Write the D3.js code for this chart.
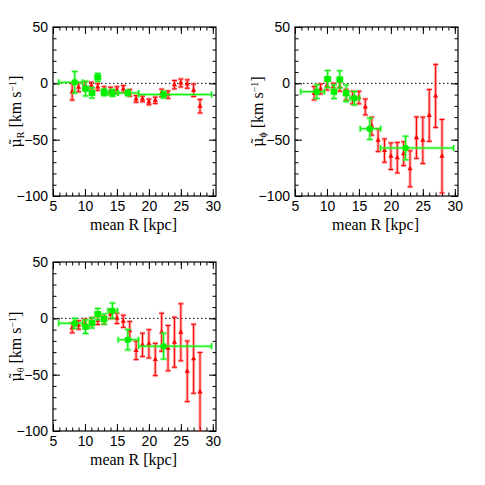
<!doctype html>
<html>
	<head>
		<meta charset="UTF-8" />
		<script src="https://d3js.org/d3.v7.min.js"></script>
		<style>
			body { margin: 0; background: #fff; }
			svg { display: block; }
			.tick text { font-family: "Liberation Sans", Arial, sans-serif; font-size: 14px; fill: #000; }
			.title { font-family: "Liberation Serif", "DejaVu Serif", serif; font-size: 16px; fill: #000; }
			.mu { font-family: "DejaVu Serif", serif; font-size: 14px; }
		</style>
	</head>
	<body>
		<svg id="chart" width="485" height="485"></svg>
		<script>
			// single-star bins (red), 1 kpc steps
			const starR = [8, 9, 10, 11, 12, 13, 14, 15, 16, 17, 18, 19, 20, 21, 22, 23, 24, 25, 26, 27, 28];
			const starMuR = [-7.6, -3.5, -1.5, -2, -3.2, -6, -6.5, -6, -5, -8.5, -13.8, -13.8, -16.5, -15, -8.5, -10, -1.2, 0.3, -0.6, -6.2, -20.3];
			const starMuRErr = [7.3, 4, 3, 3, 3, 3, 3, 3, 3, 3, 3, 2.5, 2.5, 2.8, 3.3, 3.3, 3.7, 3.5, 3.7, 5.5, 6];
			const starMuPhi = [-8.8, -5, -2, -3, -3, -10, -12.6, -12.6, -21, -38, -50.6, -59.7, -64.7, -66, -62.4, -75.9, -48.2, -50.6, -28.5, -11.2, -64.7];
			const starMuPhiErr = [5.9, 4.4, 4, 3, 4, 4.7, 5.6, 5.6, 7, 8, 10, 10.3, 11.8, 13.5, 10.6, 16, 18.4, 20.6, 23, 28, 32.6];
			const starMuTheta = [-8.5, -5.9, -3.5, -3, -2, -1.5, 3.8, 0, -2.6, -11, -28.5, -23.5, -22.6, -36.5, -12.4, -26.5, -21.2, -12.4, -47, -35.9, -65.3];
			const starMuThetaErr = [4.3, 3.7, 3, 3.5, 3.5, 3.5, 4.1, 4.6, 5.4, 8.1, 8.1, 10.3, 12.5, 14.3, 16.9, 20.1, 22.2, 25.3, 26.9, 30.6, 35];

			// wide bins (green)
			const binR = [8.4, 10.1, 11.1, 12.0, 13.0, 14.3, 16.7, 22.3];
			const binLo = [5.9, 9.7, 10.7, 11.6, 12.6, 13.6, 15.2, 18.4];
			const binHi = [9.6, 10.5, 11.5, 12.4, 13.4, 15.1, 18.4, 29.8];
			const binMuR = [0.9, -4.7, -8.5, 5.3, -8, -8.5, -8.5, -10];
			const binMuRErr = [9.5, 6.5, 4.5, 3.5, 3, 3, 2.5, 3];
			const binMuPhi = [-7.4, 3.8, -7.4, 3.5, -8.8, -13.2, -40.3, -57.4];
			const binMuPhiErr = [6, 7.6, 6, 7.6, 7.4, 6, 9.5, 10.5];
			const binMuTheta = [-4.4, -7.4, -4.1, 3.8, -0.6, 6.8, -19, -24.7];
			const binMuThetaErr = [4.4, 6, 4.5, 5, 4.5, 6.7, 9, 11.5];

			const xTicks = [5, 10, 15, 20, 25, 30];
			const yTicks = [-100, -50, 0, 50];
			const subs = ["R", "\u03d5", "\u03b8"];

			(function(){
				"use strict"

				const svg = d3.select("#chart");
				const w = 163, h = 169;
				const panels = [
					{ left: 53, top: 27, sub: subs[0], mu: starMuR, err: starMuRErr, bmu: binMuR, berr: binMuRErr },
					{ left: 295, top: 27, sub: subs[1], mu: starMuPhi, err: starMuPhiErr, bmu: binMuPhi, berr: binMuPhiErr },
					{ left: 53, top: 262, sub: subs[2], mu: starMuTheta, err: starMuThetaErr, bmu: binMuTheta, berr: binMuThetaErr }
				];

				const x = d3.scaleLinear().domain([5, 30.5]).range([0, w]);
				const y = d3.scaleLinear().domain([-100, 50]).range([h, 0]);
				const xMinor = d3.range(5, 31, 1);
				const yMinor = d3.range(-100, 51, 10);

				panels.forEach(function(p, i){
					let g = svg.append("g").attr("transform", "translate(" + p.left + "," + p.top + ")");

					g.append("clipPath").attr("id", "clip" + i)
						.append("rect").attr("width", w).attr("height", h);

					// axes, ticks inward on all sides
					let addAxis = function(axis, tr, values, size, labels){
						let a = g.append("g").attr("transform", tr)
							.call(axis(values === xTicks || values === xMinor ? x : y)
								.tickValues(values).tickSize(-size).tickPadding(5)
								.tickFormat(labels ? d3.format("d") : ""));
						a.select(".domain").remove();
						a.selectAll("line").attr("stroke", "#000");
						return a;
					};
					addAxis(d3.axisBottom, "translate(0," + h + ")", xMinor, 3.5, false);
					addAxis(d3.axisBottom, "translate(0," + h + ")", xTicks, 7, true);
					addAxis(d3.axisTop, "translate(0,0)", xMinor, 3.5, false);
					addAxis(d3.axisTop, "translate(0,0)", xTicks, 7, false);
					addAxis(d3.axisLeft, "translate(0,0)", yMinor, 3.5, false);
					addAxis(d3.axisLeft, "translate(0,0)", yTicks, 7, true);
					addAxis(d3.axisRight, "translate(" + w + ",0)", yMinor, 3.5, false);
					addAxis(d3.axisRight, "translate(" + w + ",0)", yTicks, 7, false);
					g.selectAll(".tick text").text(function(){ return this.textContent.replace("-", "\u2212"); });

					g.append("rect").attr("width", w).attr("height", h)
						.attr("fill", "none").attr("stroke", "#000").attr("stroke-width", 1.2);

					g.append("line")
						.attr("x1", 0).attr("x2", w)
						.attr("y1", y(0)).attr("y2", y(0))
						.attr("stroke", "#000").attr("stroke-dasharray", "1.5,2.5");

					let data = g.append("g").attr("clip-path", "url(#clip" + i + ")");

					// red: per-kpc points
					let red = data.selectAll(".red").data(starR).enter().append("g");
					[["rgba(255,60,60,0.45)", 3], ["#ff0000", 1]].forEach(function(s){
						red.append("path")
							.attr("d", function(d, j){
								let cx = x(d), y1 = y(p.mu[j] + p.err[j]), y2 = y(p.mu[j] - p.err[j]);
								return "M" + cx + "," + y1 + "V" + y2 +
									"M" + (cx - 2.5) + "," + y1 + "H" + (cx + 2.5) +
									"M" + (cx - 2.5) + "," + y2 + "H" + (cx + 2.5);
							})
							.attr("fill", "none").attr("stroke", s[0]).attr("stroke-width", s[1]);
					});
					red.append("path")
						.attr("d", d3.symbol().type(d3.symbolTriangle).size(12))
						.attr("transform", function(d, j){ return "translate(" + x(d) + "," + y(p.mu[j]) + ")"; })
						.attr("fill", "#ff0000");

					// green: wide bins
					let green = data.selectAll(".green").data(binR).enter().append("g");
					[["rgba(80,255,80,0.5)", 3], ["#00ee00", 1]].forEach(function(s){
						green.append("path")
							.attr("d", function(d, j){
								let cx = x(d), cy = y(p.bmu[j]);
								let y1 = y(p.bmu[j] + p.berr[j]), y2 = y(p.bmu[j] - p.berr[j]);
								let x1 = x(binLo[j]), x2 = x(binHi[j]);
								return "M" + cx + "," + y1 + "V" + y2 +
									"M" + (cx - 3) + "," + y1 + "H" + (cx + 3) +
									"M" + (cx - 3) + "," + y2 + "H" + (cx + 3) +
									"M" + x1 + "," + cy + "H" + x2 +
									"M" + x1 + "," + (cy - 3) + "V" + (cy + 3) +
									"M" + x2 + "," + (cy - 3) + "V" + (cy + 3);
							})
							.attr("fill", "none").attr("stroke", s[0]).attr("stroke-width", s[1]);
					});
					green.append("rect")
						.attr("x", function(d){ return x(d) - 3; })
						.attr("y", function(d, j){ return y(p.bmu[j]) - 3; })
						.attr("width", 6).attr("height", 6).attr("rx", 1.5)
						.attr("fill", "#00ee00");

					// titles
					g.append("text").attr("class", "title")
						.attr("x", w / 2 - 1).attr("y", h + 34)
						.attr("text-anchor", "middle")
						.text("mean R [kpc]");

					let yl = g.append("text").attr("class", "title")
						.attr("transform", "translate(-32," + (h / 2) + ") rotate(-90)")
						.attr("text-anchor", "middle");
					yl.append("tspan").attr("class", "mu").text("\u03bc\u0303");
					yl.append("tspan").attr("font-size", "10px").attr("dy", 3).text(p.sub);
					yl.append("tspan").attr("dy", -3).text(" [km s");
					yl.append("tspan").attr("font-size", "10px").attr("dy", -5).text("\u22121");
					yl.append("tspan").attr("dy", 5).text("]");
				});
			})();
		</script>
	</body>
</html>
